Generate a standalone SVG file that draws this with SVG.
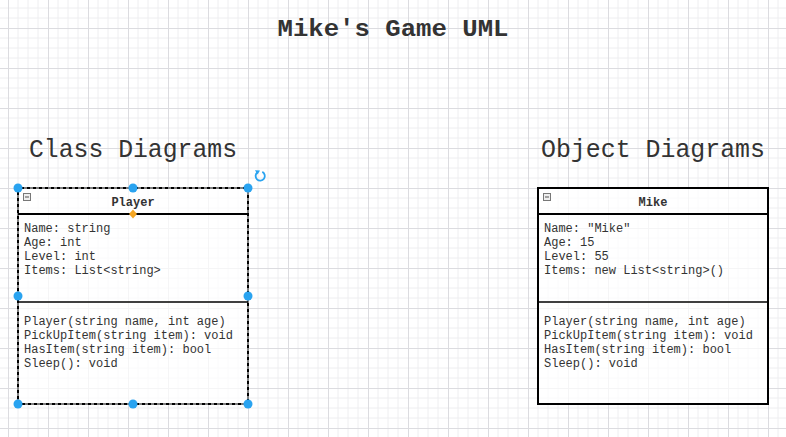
<svg xmlns="http://www.w3.org/2000/svg" width="786" height="437" viewBox="0 0 786 437">
<style>
.mono{font-family:"Liberation Mono","DejaVu Sans Mono",monospace;fill:#333333}
.title{font-size:24px;font-weight:bold}
.head{font-size:25px}
.cname{font-size:12px;font-weight:bold;text-anchor:middle}
.txt{font-size:12px}
.handle{fill:#29a3f0}
.minus{fill:#eeeeee;stroke:#777777;stroke-width:1}
</style>
<defs>
<pattern id="grid" patternUnits="userSpaceOnUse" x="8" y="28" width="40" height="40">
<path d="M10 0V40M20 0V40M30 0V40M0 10H40M0 20H40M0 30H40" stroke="#eeeef0" stroke-width="1" fill="none"/>
<path d="M0.5 0V40M0 0.5H40" stroke="#dcdce0" stroke-width="1" fill="none"/>
</pattern>
</defs>
<rect width="786" height="437" fill="#ffffff"/>
<rect width="786" height="437" fill="url(#grid)"/>

<text class="mono title" x="393" y="36" text-anchor="middle" textLength="231" lengthAdjust="spacingAndGlyphs">Mike's Game UML</text>
<text id="class-heading" class="mono head" x="29" y="157" textLength="208" lengthAdjust="spacingAndGlyphs">Class Diagrams</text>
<text id="object-heading" class="mono head" x="541" y="157" textLength="224" lengthAdjust="spacingAndGlyphs">Object Diagrams</text>

<g id="player">
<rect x="18" y="188" width="230" height="216" fill="#ffffff" fill-opacity="0.7" stroke="#000000" stroke-width="2"/>
<rect x="18" y="188" width="230" height="216" fill="none" stroke="#ffffff" stroke-width="2" stroke-dasharray="3 3" stroke-opacity="0.5"/>
<line x1="18" y1="214" x2="248" y2="214" stroke="#000000" stroke-width="2"/>
<line x1="18" y1="302" x2="248" y2="302" stroke="#000000" stroke-width="1.5"/>
<rect class="minus" x="23.5" y="193.5" width="7" height="7"/>
<line x1="25" y1="197" x2="29" y2="197" stroke="#555555" stroke-width="1"/>
<text class="mono cname" x="133" y="206">Player</text>
<text class="mono txt" x="24" y="232">Name: string</text>
<text class="mono txt" x="24" y="246">Age: int</text>
<text class="mono txt" x="24" y="260">Level: int</text>
<text class="mono txt" x="24" y="274">Items: List&lt;string&gt;</text>
<text class="mono txt" x="24" y="325">Player(string name, int age)</text>
<text class="mono txt" x="24" y="339">PickUpItem(string item): void</text>
<text class="mono txt" x="24" y="353">HasItem(string item): bool</text>
<text class="mono txt" x="24" y="367">Sleep(): void</text>
<circle class="handle" cx="18" cy="188" r="4.5"/>
<circle class="handle" cx="133" cy="188" r="4.5"/>
<circle class="handle" cx="248" cy="188" r="4.5"/>
<circle class="handle" cx="18" cy="296" r="4.5"/>
<circle class="handle" cx="248" cy="296" r="4.5"/>
<circle class="handle" cx="18" cy="404" r="4.5"/>
<circle class="handle" cx="133" cy="404" r="4.5"/>
<circle class="handle" cx="248" cy="404" r="4.5"/>
<path d="M133 209.5L137 214L133 218.5L129 214Z" fill="#f5a623"/>
<path d="M262.3 171.9A4.6 4.6 0 1 1 257.5 172.3" fill="none" stroke="#29a3f0" stroke-width="1.8"/>
<path d="M255 170.3L260 170.6L257.6 174.6Z" fill="#29a3f0"/>
</g>

<g id="mike">
<rect x="538" y="188" width="230" height="216" fill="#ffffff" fill-opacity="0.7" stroke="#000000" stroke-width="2"/>
<line x1="538" y1="214" x2="768" y2="214" stroke="#000000" stroke-width="2"/>
<line x1="538" y1="302" x2="768" y2="302" stroke="#000000" stroke-width="1.5"/>
<rect class="minus" x="543.5" y="193.5" width="7" height="7"/>
<line x1="545" y1="197" x2="549" y2="197" stroke="#555555" stroke-width="1"/>
<text class="mono cname" x="653" y="206">Mike</text>
<text class="mono txt" x="544" y="232">Name: "Mike"</text>
<text class="mono txt" x="544" y="246">Age: 15</text>
<text class="mono txt" x="544" y="260">Level: 55</text>
<text class="mono txt" x="544" y="274">Items: new List&lt;string&gt;()</text>
<text class="mono txt" x="544" y="325">Player(string name, int age)</text>
<text class="mono txt" x="544" y="339">PickUpItem(string item): void</text>
<text class="mono txt" x="544" y="353">HasItem(string item): bool</text>
<text class="mono txt" x="544" y="367">Sleep(): void</text>
</g>

<g id="connectors"></g>
</svg>
